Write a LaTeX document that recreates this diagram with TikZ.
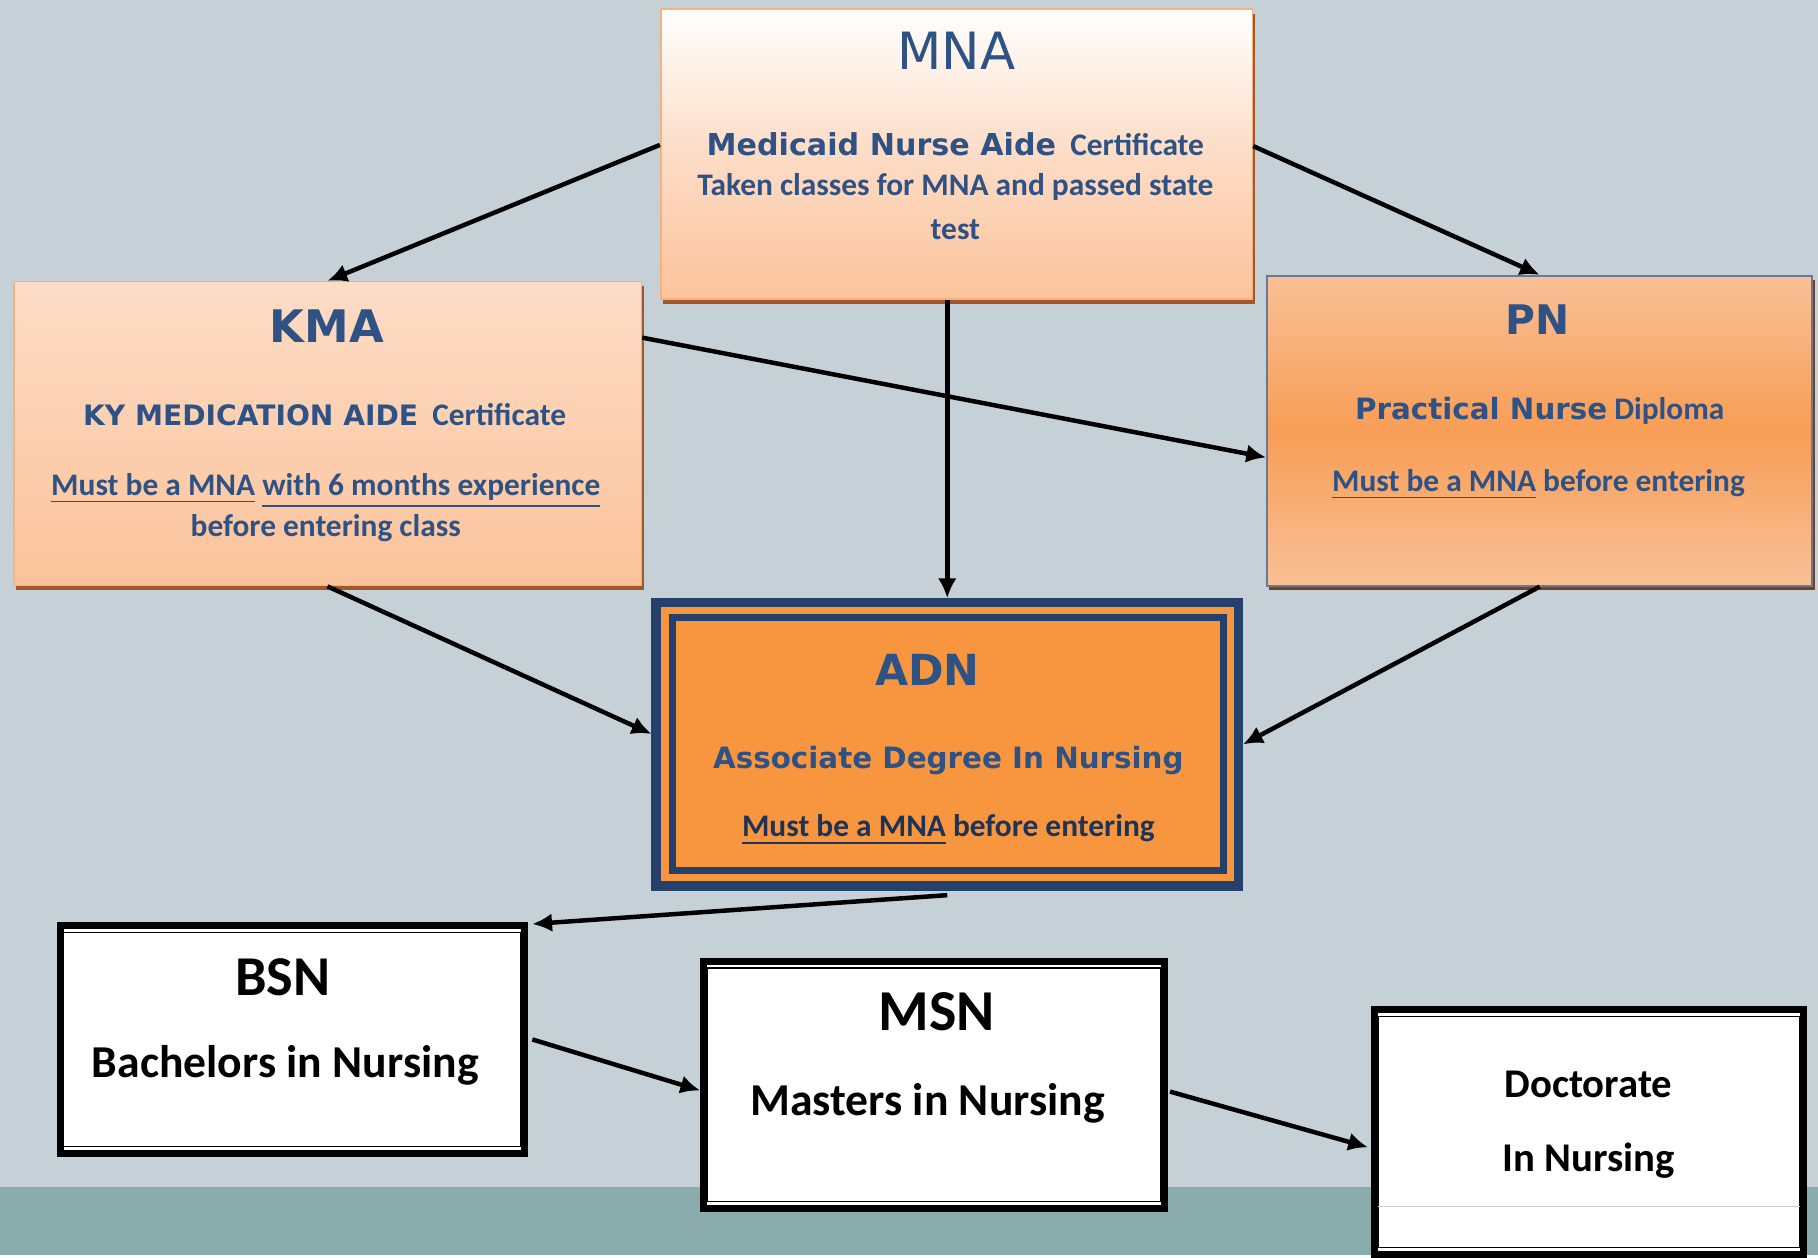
\documentclass[tikz,border=0pt]{standalone}
\usepackage{fontspec}
\setmainfont{Carlito}
\newfontfamily\widefont{DejaVu Sans}
\usetikzlibrary{arrows.meta, positioning, calc, shadows}

\definecolor{bgblue}{HTML}{C5D1D7}
\definecolor{stripteal}{HTML}{8AACAC}
\definecolor{txtblue}{HTML}{2F5285}
\definecolor{navy}{HTML}{25406A}
\definecolor{peach}{HTML}{FBC39B}
\definecolor{peachlight}{HTML}{FDDCC6}
\definecolor{pnlight}{HTML}{F9C097}
\definecolor{pnorange}{HTML}{F89D55}
\definecolor{adnorange}{HTML}{F7963F}
\definecolor{edgeorange}{HTML}{F4B183}
\definecolor{shadowbrown}{HTML}{A04A14}

\newcommand{\wideb}[1]{{\widefont\bfseries #1}}

\begin{document}
\begin{tikzpicture}[x=0.01cm, y=-0.01cm, line width=1.1pt,
    lightbox/.style={draw=edgeorange, line width=0.4pt, inner sep=0pt,
      drop shadow={shadow xshift=0.02cm, shadow yshift=-0.04cm, fill=shadowbrown, opacity=0.9}},
    degbox/.style={draw=black, line width=0.06cm, fill=white, inner sep=0pt},
    btxt/.style={text=txtblue, font=\bfseries\fontsize{7.7}{9}\selectfont},
    dtxt/.style={text=black, font=\bfseries\fontsize{11.2}{13}\selectfont}]
    \useasboundingbox (0,0) rectangle (1568,1085);
    % Background
    \fill[bgblue] (0,0) rectangle (1568,1085);
    \fill[stripteal] (0,1024) rectangle (1568,1082);
    \fill[white] (0,1082) rectangle (1568,1085);

    % Certificate boxes
    \node[lightbox, top color=white, bottom color=peach, middle color=peachlight,
      minimum width=5.10cm, minimum height=2.50cm] (mna) at (825,133) {};
    \node[lightbox, top color=peachlight, bottom color=peach,
      minimum width=5.41cm, minimum height=2.62cm] (kma) at (282.5,374) {};
    \node[draw=navy!70, line width=0.5pt, inner sep=0pt, top color=pnlight, bottom color=pnlight, middle color=pnorange,
      drop shadow={shadow xshift=0.02cm, shadow yshift=-0.04cm, fill=shadowbrown!70!black, opacity=0.9},
      minimum width=4.70cm, minimum height=2.67cm] (pn) at (1328,371.5) {};
    \node[draw=navy, line width=0.08cm, fill=adnorange, inner sep=0pt,
      minimum width=5.02cm, minimum height=2.44cm] (adn) at (817,642) {};
    \draw[navy, line width=0.06cm] ($(adn.north west)+(18,17)$) rectangle ($(adn.south east)+(-17,-17)$);

    % Degree boxes
    \node[degbox, minimum width=4.00cm, minimum height=1.97cm] (bsn) at (252,896.5) {};
    \node[degbox, minimum width=3.97cm, minimum height=2.13cm] (msn) at (805.5,935.5) {};
    \node[degbox, minimum width=3.69cm, minimum height=2.11cm] (doc) at (1370.5,976.5) {};
    \foreach \b in {bsn, msn, doc}
        \draw[line width=0.3pt] ($(\b.north west)+(6,9)$) rectangle ($(\b.south east)+(-6,-9)$);
    \draw[gray!40, line width=0.4pt] ($(doc.west)+(6,64)$) -- ($(doc.east)+(-6,64)$);

    % Texts
    \node[text=txtblue, font=\widefont\fontsize{12.6}{14}\selectfont] (mnaT) at (825,44) {MNA};
    \node[btxt] (mnaS) at (824,124) {\wideb{\fontsize{7.4}{9}\selectfont Medicaid Nurse Aide}\ \ Certificate};
    \node[btxt, align=center] (mnaN) at (824,178) {Taken classes for MNA and passed state\\[0.06cm]test};

    \node[text=txtblue, font=\widefont\bfseries\fontsize{11}{13}\selectfont] (kmaT) at (282,281) {KMA};
    \node[btxt] (kmaS) at (280,358) {\wideb{\fontsize{6.9}{9}\selectfont KY MEDICATION AIDE}\ \ Certificate};
    \node[btxt, align=center] (kmaN) at (281,438) {\underline{Must be a MNA} \underline{with 6 months experience}\\[0.04cm]before entering class};

    \node[text=txtblue, font=\widefont\bfseries\fontsize{10}{12}\selectfont] (pnT) at (1326,276) {PN};
    \node[btxt] (pnS) at (1328,354) {\wideb{\fontsize{7.2}{9}\selectfont Practical Nurse} Diploma};
    \node[btxt] (pnN) at (1327,418) {\underline{Must be a MNA} before entering};

    \node[text=txtblue, font=\widefont\bfseries\fontsize{10.5}{12}\selectfont] (adnT) at (800,578) {ADN};
    \node[text=txtblue, font=\widefont\bfseries\fontsize{7.2}{9}\selectfont] (adnS) at (818,656) {Associate Degree In Nursing};
    \node[btxt, text=navy!80!black] (adnN) at (818,716) {\underline{Must be a MNA} before entering};

    \node[dtxt, font=\bfseries\fontsize{13.8}{15}\selectfont] (bsnT) at (244,843) {BSN};
    \node[dtxt] (bsnS) at (246,919) {Bachelors in Nursing};
    \node[dtxt, font=\bfseries\fontsize{14.2}{15}\selectfont] (msnT) at (808,873) {MSN};
    \node[dtxt] (msnS) at (800,952) {Masters in Nursing};
    \node[dtxt, font=\bfseries\fontsize{10}{12}\selectfont] (docT) at (1370,935) {Doctorate};
    \node[dtxt, font=\bfseries\fontsize{10}{12}\selectfont] (docS) at (1370,1001) {In Nursing};

    % Paths
    \draw[-{Latex[length=1.7mm,width=1.6mm]}] ($(mna.west)+(0,-8)$) -- (kma.north);
    \draw[-{Latex[length=1.7mm,width=1.6mm]}] ($(mna.east)+(0,-7)$) -- (pn.north);
    \draw[-{Latex[length=1.7mm,width=1.6mm]}] (adn.north |- mna.south) -- (adn.north);
    \draw[-{Latex[length=1.7mm,width=1.6mm]}] ($(kma.north east)+(0,49)$) -- ($(pn.west)+(0,23)$);
    \draw[-{Latex[length=1.7mm,width=1.6mm]}] (kma.south) -- ($(adn.west)+(0,-9)$);
    \draw[-{Latex[length=1.7mm,width=1.6mm]}] (pn.south) -- (adn.east);
    \draw[-{Latex[length=1.7mm,width=1.6mm]}] ($(adn.south)+(0,4)$) -- ($(bsn.north east)+(4,2)$);
    \draw[-{Latex[length=1.7mm,width=1.6mm]}] ($(bsn.east)+(4,0)$) -- ($(msn.west)+(0,5)$);
    \draw[-{Latex[length=1.7mm,width=1.6mm]}] ($(msn.east)+(2,6)$) -- ($(doc.west)+(-3,13)$);
\end{tikzpicture}
\end{document}
